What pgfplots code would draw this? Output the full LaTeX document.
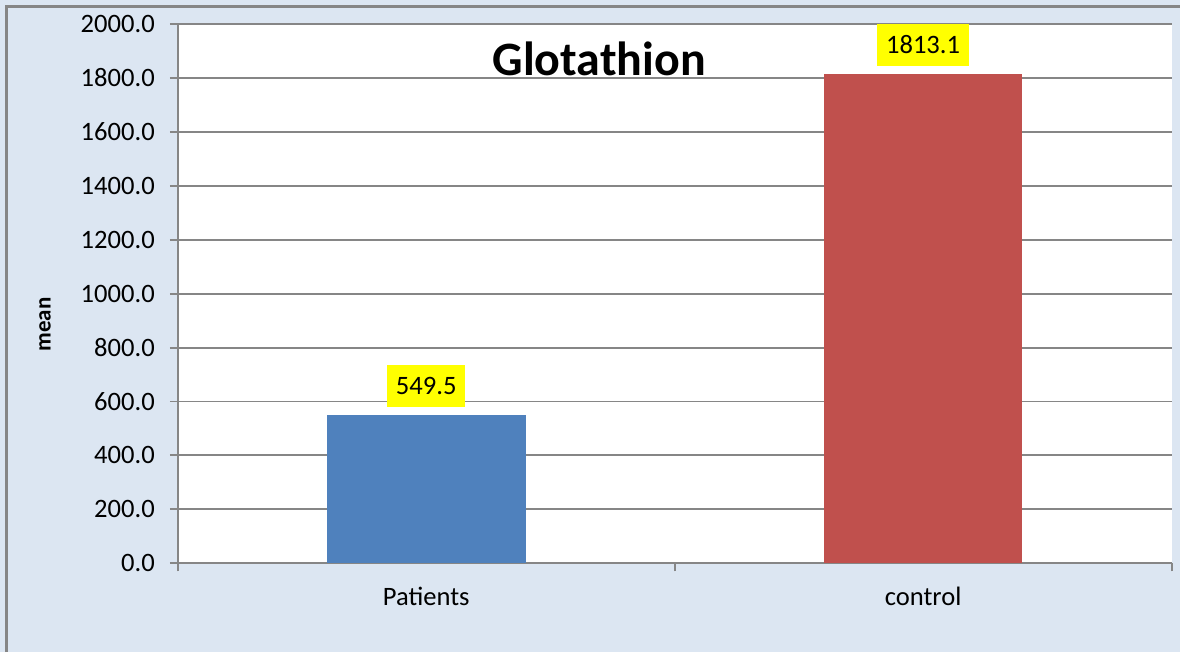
\documentclass[border=0pt]{standalone}
\usepackage{fontspec}
\setmainfont{Carlito}
\usepackage{pgfplots}
\pgfplotsset{compat=1.18}
\definecolor{bgblue}{HTML}{DCE6F2}
\definecolor{frameg}{HTML}{868686}
\definecolor{barB}{HTML}{4F81BD}
\definecolor{barR}{HTML}{C0504D}
\definecolor{lblY}{HTML}{FFFF00}

\begin{document}
\begin{tikzpicture}
% chart area, 1px = 0.5pt
\fill[bgblue] (0,0) rectangle (590.5pt,-326.5pt);
\draw[frameg, line width=1.5pt] (3.5pt,-326.5pt) -- (3.5pt,-3.5pt) -- (590.5pt,-3.5pt);
\begin{axis}[
  at={(89pt,-12pt)}, anchor=north west,
  scale only axis, width=497.5pt, height=270pt,
  axis background/.style={fill=white},
  ybar, bar width=0.4, bar shift=0pt,
  xmin=-0.5, xmax=1.5, ymin=0, ymax=2000,
  axis x line*=bottom, axis y line*=left,
  axis line style={frameg, line width=1pt},
  tick style={frameg, line width=1pt},
  tick align=outside, major tick length=4pt,
  xtick={-0.5,0.5,1.5}, xticklabels={},
  extra x ticks={0,1}, extra x tick labels={Patients,control},
  extra x tick style={major tick length=0pt},
  ytick={0,200,...,2000},
  ymajorgrids, grid style={frameg, line width=1pt},
  ticklabel style={font=\fontsize{13.3}{15}\selectfont, text=black},
  yticklabel style={xshift=-4pt},
  xticklabel style={yshift=-8.5pt},
  title={\fontsize{24}{28}\selectfont\bfseries Glotathion},
  title style={at={(axis description cs:0.424,0.913)}, anchor=center},
  nodes near coords,
  nodes near coords style={font=\fontsize{13.3}{15}\selectfont, text=black, fill=lblY, inner xsep=4.5pt, inner ysep=6pt, anchor=south, yshift=4pt},
  /pgf/number format/fixed, /pgf/number format/fixed zerofill,
  /pgf/number format/precision=1, /pgf/number format/1000 sep={},
  /pgf/number format/assume math mode=true,
]
\addplot[fill=barB, draw=none] coordinates {(0,549.5)};
\addplot[fill=barR, draw=none] coordinates {(1,1813.1)};
\end{axis}
% y axis title
\node[rotate=90, anchor=center, font=\fontsize{11.5}{14}\selectfont\bfseries] at (22.5pt,-162.5pt) {mean};
\end{tikzpicture}
\end{document}
